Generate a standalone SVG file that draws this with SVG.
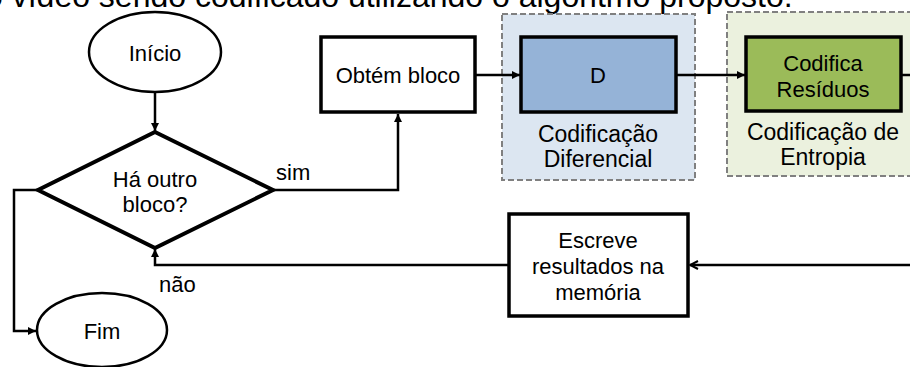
<svg xmlns="http://www.w3.org/2000/svg" width="910" height="367" viewBox="0 0 910 367">
  <defs>
    <style>
      text { font-family: "Liberation Sans", Arial, sans-serif; font-size: 22px; fill: #000; text-anchor: middle; }
      .title { font-size: 32px; text-anchor: start; }
      .lbl { text-anchor: start; }
      .stage { font-size: 23px; }
      .term { fill: #fff; stroke: #000; stroke-width: 2.5; }
      .proc { fill: #fff; stroke: #000; stroke-width: 3.5; }
      .dec { fill: #fff; stroke: #000; stroke-width: 4; stroke-linejoin: miter; }
      .region { stroke: #808080; stroke-width: 2; stroke-dasharray: 6 3; }
      .wire { fill: none; stroke: #000; stroke-width: 2.5; }
    </style>
    <marker id="arrow" viewBox="0 0 10 10" refX="10" refY="5" markerWidth="9" markerHeight="8" markerUnits="userSpaceOnUse" orient="auto">
      <path d="M0,0 L10,5 L0,10 z" fill="#000"/>
    </marker>
    <marker id="open" viewBox="0 0 10 10" refX="9" refY="5" markerWidth="10" markerHeight="12" markerUnits="userSpaceOnUse" orient="auto">
      <path d="M1,1 L9,5 L1,9" fill="none" stroke="#000" stroke-width="2"/>
    </marker>
  </defs>

  <rect width="910" height="367" fill="#fff"/>

  <!-- caption line running off the top edge -->
  <text class="title" x="-15" y="7">o vídeo sendo codificado utilizando o algoritmo proposto.</text>

  <!-- stage regions -->
  <g id="stage-diferencial">
    <rect class="region" x="502" y="14" width="193" height="166" fill="#dce6f1"/>
    <text class="stage" x="598" y="142">Codificação</text>
    <text class="stage" x="598" y="167">Diferencial</text>
  </g>
  <g id="stage-entropia">
    <rect class="region" x="727" y="12" width="200" height="164" fill="#ebf1de"/>
    <text class="stage" x="823" y="140">Codificação de</text>
    <text class="stage" x="823" y="165">Entropia</text>
  </g>

  <!-- connectors -->
  <g id="connectors">
    <path class="wire" d="M155,92 V131" marker-end="url(#arrow)"/>
    <path class="wire" d="M273,190 H398 V114" marker-end="url(#arrow)"/>
    <path class="wire" d="M475,75 H520" marker-end="url(#arrow)"/>
    <path class="wire" d="M676,75 H745" marker-end="url(#arrow)"/>
    <path class="wire" d="M901,75 H915"/>
    <path class="wire" d="M915,265 H690" marker-end="url(#open)"/>
    <path class="wire" d="M509,265 H155 V249" marker-end="url(#arrow)"/>
    <path class="wire" d="M38,190 H14 V331 H36" marker-end="url(#arrow)"/>
    <text class="lbl" x="276" y="180">sim</text>
    <text class="lbl" x="159" y="292">não</text>
  </g>

  <!-- nodes -->
  <g id="inicio">
    <ellipse class="term" cx="155" cy="52" rx="66" ry="40"/>
    <text x="155" y="61">Início</text>
  </g>
  <g id="decisao">
    <polygon class="dec" points="155,132 273,190 155,248 38,190"/>
    <text x="155" y="187">Há outro</text>
    <text x="155" y="212">bloco?</text>
  </g>
  <g id="fim">
    <ellipse class="term" cx="102" cy="330" rx="65" ry="37"/>
    <text x="102" y="339">Fim</text>
  </g>
  <g id="obtem-bloco">
    <rect class="proc" x="321" y="37" width="154" height="75"/>
    <text x="398" y="83">Obtém bloco</text>
  </g>
  <g id="diferencial">
    <rect class="proc" x="521" y="37" width="155" height="75" style="fill:#95b3d7"/>
    <text x="598" y="83">D</text>
  </g>
  <g id="codifica-residuos">
    <rect class="proc" x="746" y="37" width="155" height="74" style="fill:#9bbb59"/>
    <text x="823" y="71">Codifica</text>
    <text x="823" y="97">Resíduos</text>
  </g>
  <g id="escreve">
    <rect class="proc" x="509" y="214" width="179" height="102"/>
    <text x="598" y="248">Escreve</text>
    <text x="598" y="274">resultados na</text>
    <text x="598" y="300">memória</text>
  </g>
</svg>
